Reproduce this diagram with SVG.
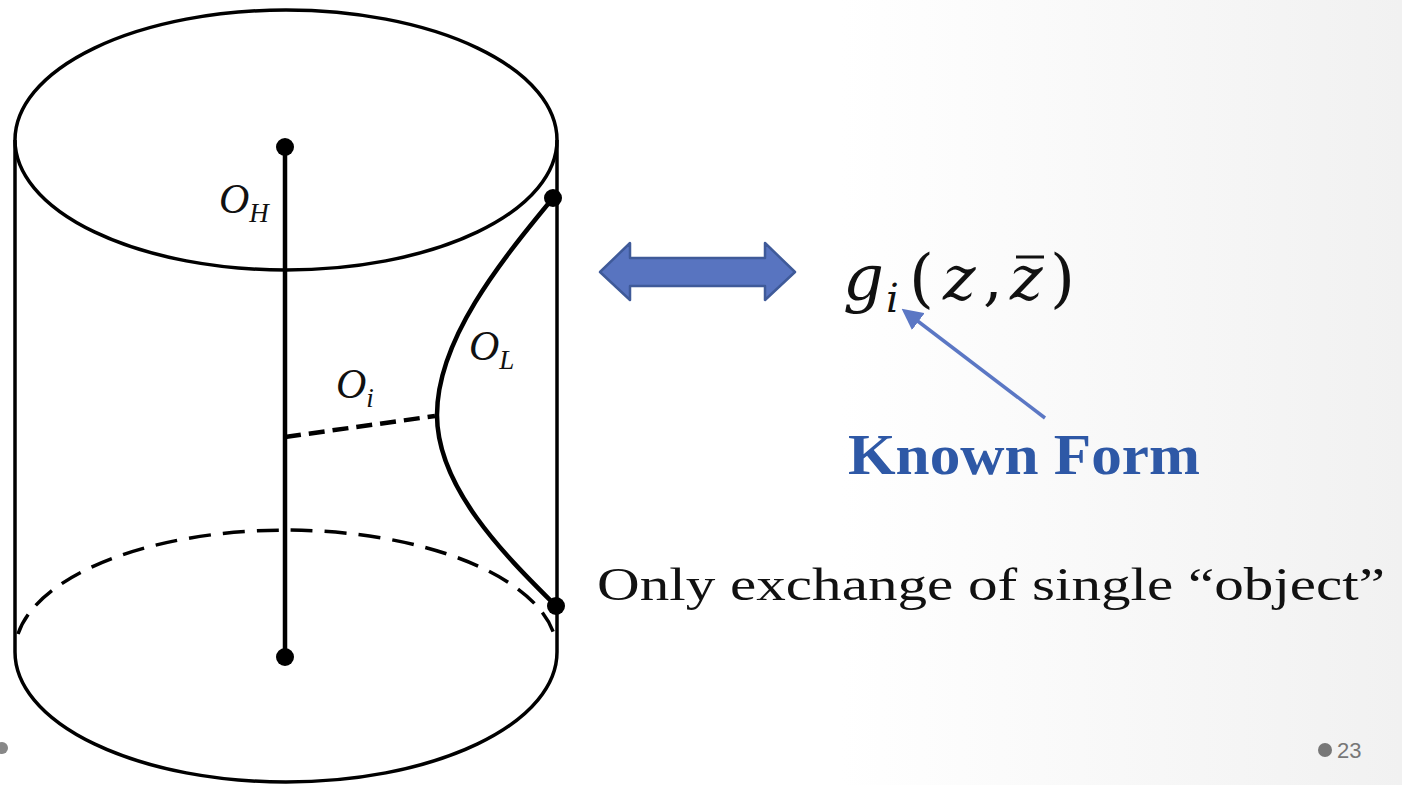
<svg xmlns="http://www.w3.org/2000/svg" width="1402" height="785" viewBox="0 0 1402 785">
<defs>
<style>
.ln{fill:none;stroke:#000;stroke-width:3.5}
.thick{fill:none;stroke:#000;stroke-width:4.5}
.dash{fill:none;stroke:#000;stroke-width:3.5;stroke-dasharray:22 12}
.dashb{fill:none;stroke:#000;stroke-width:4.5;stroke-dasharray:16 8}
.math{font-family:"Liberation Serif","DejaVu Serif",serif;font-style:italic;fill:#111}
.fm{font-family:"DejaVu Serif","Liberation Serif",serif;font-style:italic;fill:#111}
.up{font-family:"DejaVu Serif","Liberation Serif",serif;fill:#111}
.dot{fill:#000}
</style>
<linearGradient id="bg" x1="0" y1="0" x2="1" y2="0">
<stop offset="0.6" stop-color="#ffffff"/>
<stop offset="1" stop-color="#f1f1f1"/>
</linearGradient>
<marker id="ah" viewBox="0 0 10 10" refX="2" refY="5" markerWidth="6" markerHeight="6" orient="auto-start-reverse" markerUnits="strokeWidth">
<path d="M0,0 L10,5 L0,10 z" fill="#5b77c4"/>
</marker>
</defs>
<rect width="1402" height="785" fill="url(#bg)"/>
<g id="cylinder">
<ellipse class="ln" cx="286" cy="140" rx="271" ry="130"/>
<line class="ln" x1="15" y1="140" x2="15" y2="652"/>
<line class="ln" x1="557" y1="140" x2="557" y2="652"/>
<path class="ln" d="M15,652 A271,130 0 0 0 557,652"/>
<path class="dash" d="M18,634 A271,122 0 0 1 554,634"/>
</g>
<g id="OH">
<line class="thick" x1="285" y1="147" x2="285" y2="657"/>
<circle class="dot" cx="285" cy="147" r="9"/>
<circle class="dot" cx="285" cy="657" r="9"/>
<text class="math" x="219" y="213" font-size="42">O<tspan font-size="27" dy="9">H</tspan></text>
</g>
<g id="OL">
<path class="thick" d="M553,198 C500,262 437,340 437,415 C437,490 510,560 556,606"/>
<circle class="dot" cx="553" cy="198" r="9"/>
<circle class="dot" cx="556" cy="606" r="9"/>
<text class="math" x="469" y="360" font-size="42">O<tspan font-size="27" dy="9">L</tspan></text>
</g>
<g id="Oi">
<line class="dashb" x1="285" y1="437" x2="435" y2="416"/>
<text class="math" x="336" y="398" font-size="42">O<tspan font-size="27" dy="9">i</tspan></text>
</g>
<g id="connectors">
<path d="M600,272 L630,243 L630,258 L765,258 L765,243 L795,272 L765,300 L765,286 L630,286 L630,300 Z" fill="#5874c0" stroke="#3f5a99" stroke-width="2.5" stroke-linejoin="round"/>
<line x1="1045" y1="418" x2="915" y2="319" stroke="#5b77c4" stroke-width="3.5" marker-end="url(#ah)"/>
</g>
<g id="formula">
<text class="fm" x="843" y="300" font-size="64">g</text>
<text class="fm" x="886" y="312" font-size="40">i</text>
<text class="up" x="909" y="300" font-size="64">(</text>
<text class="fm" x="943" y="299" font-size="62">z</text>
<text class="up" x="983" y="299" font-size="62">,</text>
<text class="fm" x="1010" y="299" font-size="62">z</text>
<line x1="1016" y1="257" x2="1044" y2="257" stroke="#111" stroke-width="3"/>
<text class="up" x="1050" y="300" font-size="64">)</text>
</g>
<g id="known">
<text x="848" y="474" font-family="'Liberation Serif', 'DejaVu Serif', serif" font-weight="bold" font-size="58" fill="#2e58a6" textLength="352" lengthAdjust="spacingAndGlyphs">Known Form</text>
</g>
<g id="note">
<text x="597" y="600" font-family="'Liberation Serif', serif" font-size="46" fill="#111" textLength="788" lengthAdjust="spacingAndGlyphs">Only exchange of single “object”</text>
</g>
<g id="page">
<circle cx="1325" cy="750" r="7" fill="#777"/>
<text x="1337" y="758" font-family="'Liberation Sans', sans-serif" font-size="22" fill="#777">23</text>
<circle cx="2" cy="748" r="6" fill="#888"/>
</g>
</svg>
